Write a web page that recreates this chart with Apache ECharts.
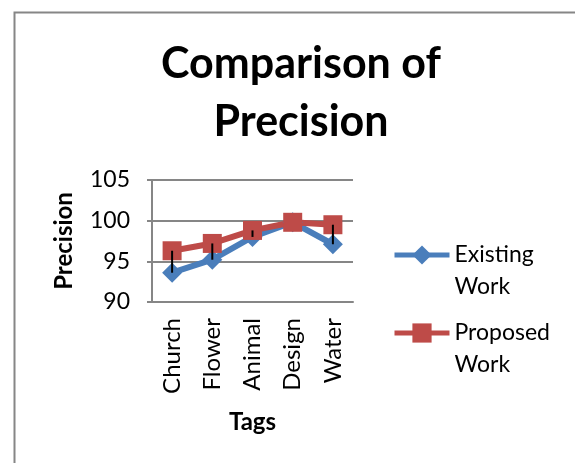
<!DOCTYPE html>
<html>
<head>
<meta charset="utf-8">
<script src="https://cdn.jsdelivr.net/npm/echarts@6/dist/echarts.min.js"></script>
<style>
  html, body { margin: 0; padding: 0; background: #fff; }
  #chart { width: 575px; height: 463px; }
</style>
</head>
<body>
<div id="chart"></div>
<script>
const tags = ['Church', 'Flower', 'Animal', 'Design', 'Water'];
const existingWork = [93.6, 95.2, 98.0, 99.8, 97.1];
const proposedWork = [96.3, 97.2, 98.8, 99.8, 99.5];
const yTicks = { min: 90, max: 105, interval: 5 };

const font = 'Lato, "Open Sans", sans-serif';
const blue = '#4a7ebb';
const red = '#be4b48';
const axisGray = '#868686';

const chart = echarts.init(document.getElementById('chart'));

const highLow = tags.map((_, i) => [i, existingWork[i], proposedWork[i]]);

const legendBase = {
  orient: 'vertical',
  left: 392,
  padding: 0,
  itemWidth: 55,
  itemHeight: 24,
  lineStyle: { width: 5 },
  textStyle: { fontFamily: font, fontSize: 23, color: '#000', lineHeight: 32 },
  formatter: (name) => '\n' + name.replace(' ', '\n'),
};

const option = {
  animation: false,
  textStyle: { fontFamily: font },
  title: {
    text: 'Comparison of\nPrecision',
    left: 296,
    top: 30,
    textAlign: 'center',
    textStyle: { fontFamily: font, fontSize: 43, fontWeight: 'bold', color: '#000', lineHeight: 58 },
  },
  graphic: [{
    type: 'rect',
    left: 12, top: 10,
    shape: { width: 600, height: 500 },
    style: { fill: 'none', stroke: axisGray, lineWidth: 2 },
    silent: true,
  }],
  legend: [
    Object.assign({}, legendBase, { top: 207, data: ['Existing Work'] }),
    Object.assign({}, legendBase, { top: 285, data: ['Proposed Work'] }),
  ],
  grid: { left: 152, right: 222, top: 180, bottom: 161 },
  xAxis: {
    type: 'category',
    data: tags,
    boundaryGap: true,
    name: 'Tags',
    nameLocation: 'middle',
    nameGap: 108,
    nameTextStyle: { fontFamily: font, fontSize: 24, fontWeight: 'bold', color: '#000' },
    axisLine: { lineStyle: { color: axisGray, width: 2 } },
    axisTick: { show: false },
    axisLabel: { rotate: 90, margin: 16, fontSize: 24, color: '#000', fontFamily: font },
  },
  yAxis: {
    type: 'value',
    min: yTicks.min,
    max: yTicks.max,
    interval: yTicks.interval,
    name: 'Precision',
    nameLocation: 'middle',
    nameGap: 76,
    nameRotate: 90,
    nameTextStyle: { fontFamily: font, fontSize: 24, fontWeight: 'bold', color: '#000' },
    axisLine: { show: true, lineStyle: { color: axisGray, width: 2 } },
    axisTick: { show: true, length: 5, lineStyle: { color: axisGray, width: 2 } },
    axisLabel: { margin: 22, fontSize: 23, color: '#000', fontFamily: font },
    splitLine: { lineStyle: { color: axisGray, width: 2 } },
  },
  series: [
    {
      name: 'Existing Work',
      type: 'line',
      data: existingWork,
      symbol: 'diamond',
      symbolSize: 20,
      lineStyle: { color: blue, width: 6 },
      itemStyle: { color: blue },
    },
    {
      name: 'Proposed Work',
      type: 'line',
      data: proposedWork,
      symbol: 'rect',
      symbolSize: 19,
      lineStyle: { color: red, width: 6 },
      itemStyle: { color: red },
    },
    {
      name: 'high-low',
      type: 'custom',
      z: 5,
      data: highLow,
      renderItem: (params, api) => {
        const a = api.coord([api.value(0), api.value(1)]);
        const b = api.coord([api.value(0), api.value(2)]);
        return {
          type: 'line',
          shape: { x1: a[0], y1: a[1], x2: b[0], y2: b[1] },
          style: { stroke: '#000', lineWidth: 2 },
        };
      },
    },
  ],
};

chart.setOption(option);
</script>
</body>
</html>
